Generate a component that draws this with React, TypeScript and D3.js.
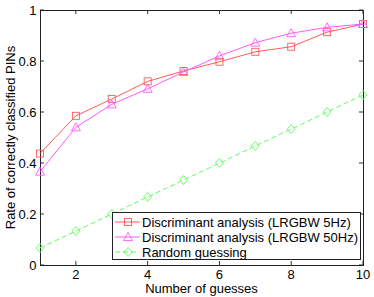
import React, { useEffect, useRef } from 'react';
import * as d3 from 'd3';

// Number of guesses (x axis)
const guesses = [1, 2, 3, 4, 5, 6, 7, 8, 9, 10];
// Rate of correctly classified PINs for each method
const lrgbw5Hz = [0.437, 0.585, 0.651, 0.72, 0.761, 0.797, 0.836, 0.856, 0.913, 0.945];
const lrgbw50Hz = [0.366, 0.54, 0.63, 0.691, 0.757, 0.82, 0.872, 0.909, 0.932, 0.945];
const randomGuess = [0.067, 0.133, 0.2, 0.267, 0.333, 0.4, 0.467, 0.533, 0.6, 0.667];
const seriesNames = [
  'Discriminant analysis (LRGBW 5Hz)',
  'Discriminant analysis (LRGBW 50Hz)',
  'Random guessing',
];
const xTicks = [2, 4, 6, 8, 10];
const yTicks = [0, 0.2, 0.4, 0.6, 0.8, 1];

const App = () => {
  const ref = useRef<SVGSVGElement | null>(null);

  useEffect(() => {
    if (!ref.current) return;
    const svg = d3.select(ref.current);
    svg.selectAll('*').remove();

    const left = 40, right = 363, top = 10, bottom = 265;
    const font = 'Liberation Sans, Arial, sans-serif';
    const fs = 13;

    const x = d3.scaleLinear().domain([1, 10]).range([left, right]);
    const y = d3.scaleLinear().domain([0, 1]).range([bottom, top]);

    const g = svg.append('g');

    // white plot area
    g.append('rect')
      .attr('x', left).attr('y', top)
      .attr('width', right - left).attr('height', bottom - top)
      .attr('fill', '#fff');

    // inward ticks on all four sides
    const tl = 4;
    xTicks.forEach(t => {
      g.append('line').attr('x1', x(t)).attr('x2', x(t)).attr('y1', bottom).attr('y2', bottom - tl).attr('stroke', '#333');
      g.append('line').attr('x1', x(t)).attr('x2', x(t)).attr('y1', top).attr('y2', top + tl).attr('stroke', '#333');
      g.append('text').attr('x', x(t)).attr('y', bottom + 14)
        .attr('text-anchor', 'middle').attr('font-family', font).attr('font-size', fs).attr('fill', '#000')
        .text(t);
    });
    yTicks.forEach(t => {
      g.append('line').attr('x1', left).attr('x2', left + tl).attr('y1', y(t)).attr('y2', y(t)).attr('stroke', '#333');
      g.append('line').attr('x1', right).attr('x2', right - tl).attr('y1', y(t)).attr('y2', y(t)).attr('stroke', '#333');
      g.append('text').attr('x', left - 3.5).attr('y', y(t) + 4.5)
        .attr('text-anchor', 'end').attr('font-family', font).attr('font-size', fs).attr('fill', '#000')
        .text(t);
    });

    // axis box
    g.append('rect')
      .attr('x', left + 0.5).attr('y', top + 0.5)
      .attr('width', right - left).attr('height', bottom - top)
      .attr('fill', 'none').attr('stroke', '#222').attr('stroke-width', 1);

    const series = [
      { values: lrgbw5Hz, color: '#ff5a5a', marker: 'square', dash: null },
      { values: lrgbw50Hz, color: '#ff5aff', marker: 'triangle', dash: null },
      { values: randomGuess, color: '#5aff5a', marker: 'diamond', dash: '5,3' },
    ];

    const drawMarker = (sel: any, type: string, cx: number, cy: number, color: string) => {
      if (type === 'square') {
        sel.append('rect').attr('x', cx - 3.5).attr('y', cy - 3.5).attr('width', 7).attr('height', 7)
          .attr('fill', 'none').attr('stroke', color).attr('stroke-width', 0.9);
      } else if (type === 'triangle') {
        sel.append('path').attr('d', `M${cx},${cy - 4.5}L${cx + 4.5},${cy + 3.5}L${cx - 4.5},${cy + 3.5}Z`)
          .attr('fill', 'none').attr('stroke', color).attr('stroke-width', 0.9);
      } else {
        sel.append('path').attr('d', `M${cx},${cy - 4.5}L${cx + 4},${cy}L${cx},${cy + 4.5}L${cx - 4},${cy}Z`)
          .attr('fill', 'none').attr('stroke', color).attr('stroke-width', 0.9);
      }
    };

    const line = d3.line<number>().x((_, i) => x(guesses[i])).y(d => y(d));

    series.forEach(s => {
      g.append('path').datum(s.values).attr('d', line)
        .attr('fill', 'none').attr('stroke', s.color).attr('stroke-width', 1)
        .attr('stroke-dasharray', s.dash);
      s.values.forEach((v, i) => drawMarker(g, s.marker, x(guesses[i]), y(v), s.color));
    });

    // legend
    const lx = 112, ly = 212, lw = 248, lh = 47;
    g.append('rect').attr('x', lx + 0.5).attr('y', ly + 0.5).attr('width', lw).attr('height', lh)
      .attr('fill', '#fff').attr('stroke', '#222').attr('stroke-width', 1);
    series.forEach((s, i) => {
      const ry = ly + 10 + i * 15;
      g.append('line').attr('x1', lx + 3).attr('x2', lx + 28).attr('y1', ry).attr('y2', ry)
        .attr('stroke', s.color).attr('stroke-width', 1).attr('stroke-dasharray', s.dash);
      drawMarker(g, s.marker, lx + 16, ry, s.color);
      g.append('text').attr('x', lx + 30).attr('y', ry + 4.5)
        .attr('font-family', font).attr('font-size', fs).attr('fill', '#000')
        .text(seriesNames[i]);
    });

    // axis labels
    g.append('text').attr('x', (left + right) / 2).attr('y', 293)
      .attr('text-anchor', 'middle').attr('font-family', font).attr('font-size', fs).attr('fill', '#000')
      .text('Number of guesses');
    g.append('text').attr('transform', `translate(15,${(top + bottom) / 2}) rotate(-90)`)
      .attr('text-anchor', 'middle').attr('font-family', font).attr('font-size', fs).attr('fill', '#000')
      .text('Rate of correctly classified PINs');
  }, []);

  return (
    <svg ref={ref} width={374} height={297}
      style={{ position: 'absolute', left: 0, top: 0, background: '#fff' }} />
  );
};

export default App;
